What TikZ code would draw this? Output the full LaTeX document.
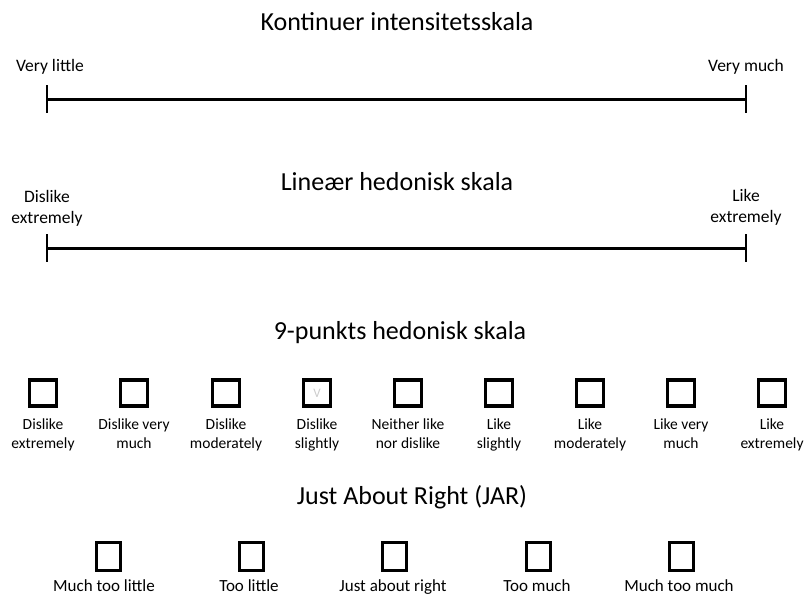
\documentclass[tikz,border=0pt]{standalone}
\usepackage{fontspec}
\setmainfont{Carlito}
\usetikzlibrary{positioning}

\tikzset{
  title/.style={font=\fontsize{26}{30}\selectfont},
  endlabel/.style={font=\fontsize{17.5}{21}\selectfont, align=center,
    execute at begin node=\strut, execute at end node=\strut},
  scaleline/.style={line width=3pt},
  scaletick/.style={line width=1.5pt},
  checkbox/.style={draw, line width=3.5pt, minimum width=27pt, minimum height=26pt, inner sep=0pt},
  jarbox/.style={draw, line width=3pt, minimum width=24pt, minimum height=28pt, inner sep=0pt},
  boxlabel/.style={font=\fontsize{15.5}{19}\selectfont, align=center, inner sep=0pt,
    execute at begin node=\strut, execute at end node=\strut},
  jarlabel/.style={font=\fontsize{17}{20}\selectfont, inner sep=0pt}
}

\begin{document}
\begin{tikzpicture}[x=1pt,y=-1pt]
\useasboundingbox (0,0) rectangle (805,594);

% continuous intensity scale
\node[title] (t1) at (397,22) {Kontinuer intensitetsskala};
\node[endlabel] (vlittle) at (50,67) {Very little};
\node[endlabel] (vmuch) at (746,67) {Very much};
\coordinate (s1L) at (47,99);
\coordinate (s1R) at (746,99);
\draw[scaleline] (s1L) -- (s1R);
\draw[scaletick] ([yshift=14pt]s1L) -- ([yshift=-14pt]s1L);
\draw[scaletick] ([yshift=14pt]s1R) -- ([yshift=-14pt]s1R);

% linear hedonic scale
\node[title] (t2) at (397,182) {Lineær hedonisk skala};
\node[endlabel] (dext) at (47,210) {Dislike\\extremely};
\node[endlabel] (lext) at (746,209) {Like\\extremely};
\coordinate (s2L) at (47,248);
\coordinate (s2R) at (746,248);
\draw[scaleline] (s2L) -- (s2R);
\draw[scaletick] ([yshift=14pt]s2L) -- ([yshift=-14pt]s2L);
\draw[scaletick] ([yshift=14pt]s2R) -- ([yshift=-14pt]s2R);

% 9-point hedonic scale
\node[title] (t3) at (400,333) {9-punkts hedonisk skala};
\node[checkbox] (h1) at (43,393) {};
\node[checkbox] (h2) at (134,393) {};
\node[checkbox] (h3) at (226,393) {};
\node[checkbox] (h4) at (317,393) {};
\node[checkbox] (h5) at (408,393) {};
\node[checkbox] (h6) at (499,393) {};
\node[checkbox] (h7) at (590,393) {};
\node[checkbox] (h8) at (681,393) {};
\node[checkbox] (h9) at (772,393) {};
\node[text=black!20, font=\fontsize{13}{13}\selectfont] (h4mark) at (h4) {V};
\node[boxlabel] (l1) at (43,436) {Dislike\\extremely};
\node[boxlabel] (l2) at (134,436) {Dislike very\\much};
\node[boxlabel] (l3) at (226,436) {Dislike\\moderately};
\node[boxlabel] (l4) at (317,436) {Dislike\\slightly};
\node[boxlabel] (l5) at (408,436) {Neither like\\nor dislike};
\node[boxlabel] (l6) at (499,436) {Like\\slightly};
\node[boxlabel] (l7) at (590,436) {Like\\moderately};
\node[boxlabel] (l8) at (681,436) {Like very\\much};
\node[boxlabel] (l9) at (772,436) {Like\\extremely};

% just about right scale
\node[title] (t4) at (412,497) {Just About Right (JAR)};
\node[jarbox] (j1) at (108,556) {};
\node[jarbox] (j2) at (251,556) {};
\node[jarbox] (j3) at (394,556) {};
\node[jarbox] (j4) at (538,556) {};
\node[jarbox] (j5) at (681,556) {};
\node[jarlabel, anchor=base] (m1) at (104,591) {Much too little};
\node[jarlabel, anchor=base] (m2) at (249,591) {Too little};
\node[jarlabel, anchor=base] (m3) at (393,591) {Just about right};
\node[jarlabel, anchor=base] (m4) at (537,591) {Too much};
\node[jarlabel, anchor=base] (m5) at (679,591) {Much too much};
\end{tikzpicture}
\end{document}
